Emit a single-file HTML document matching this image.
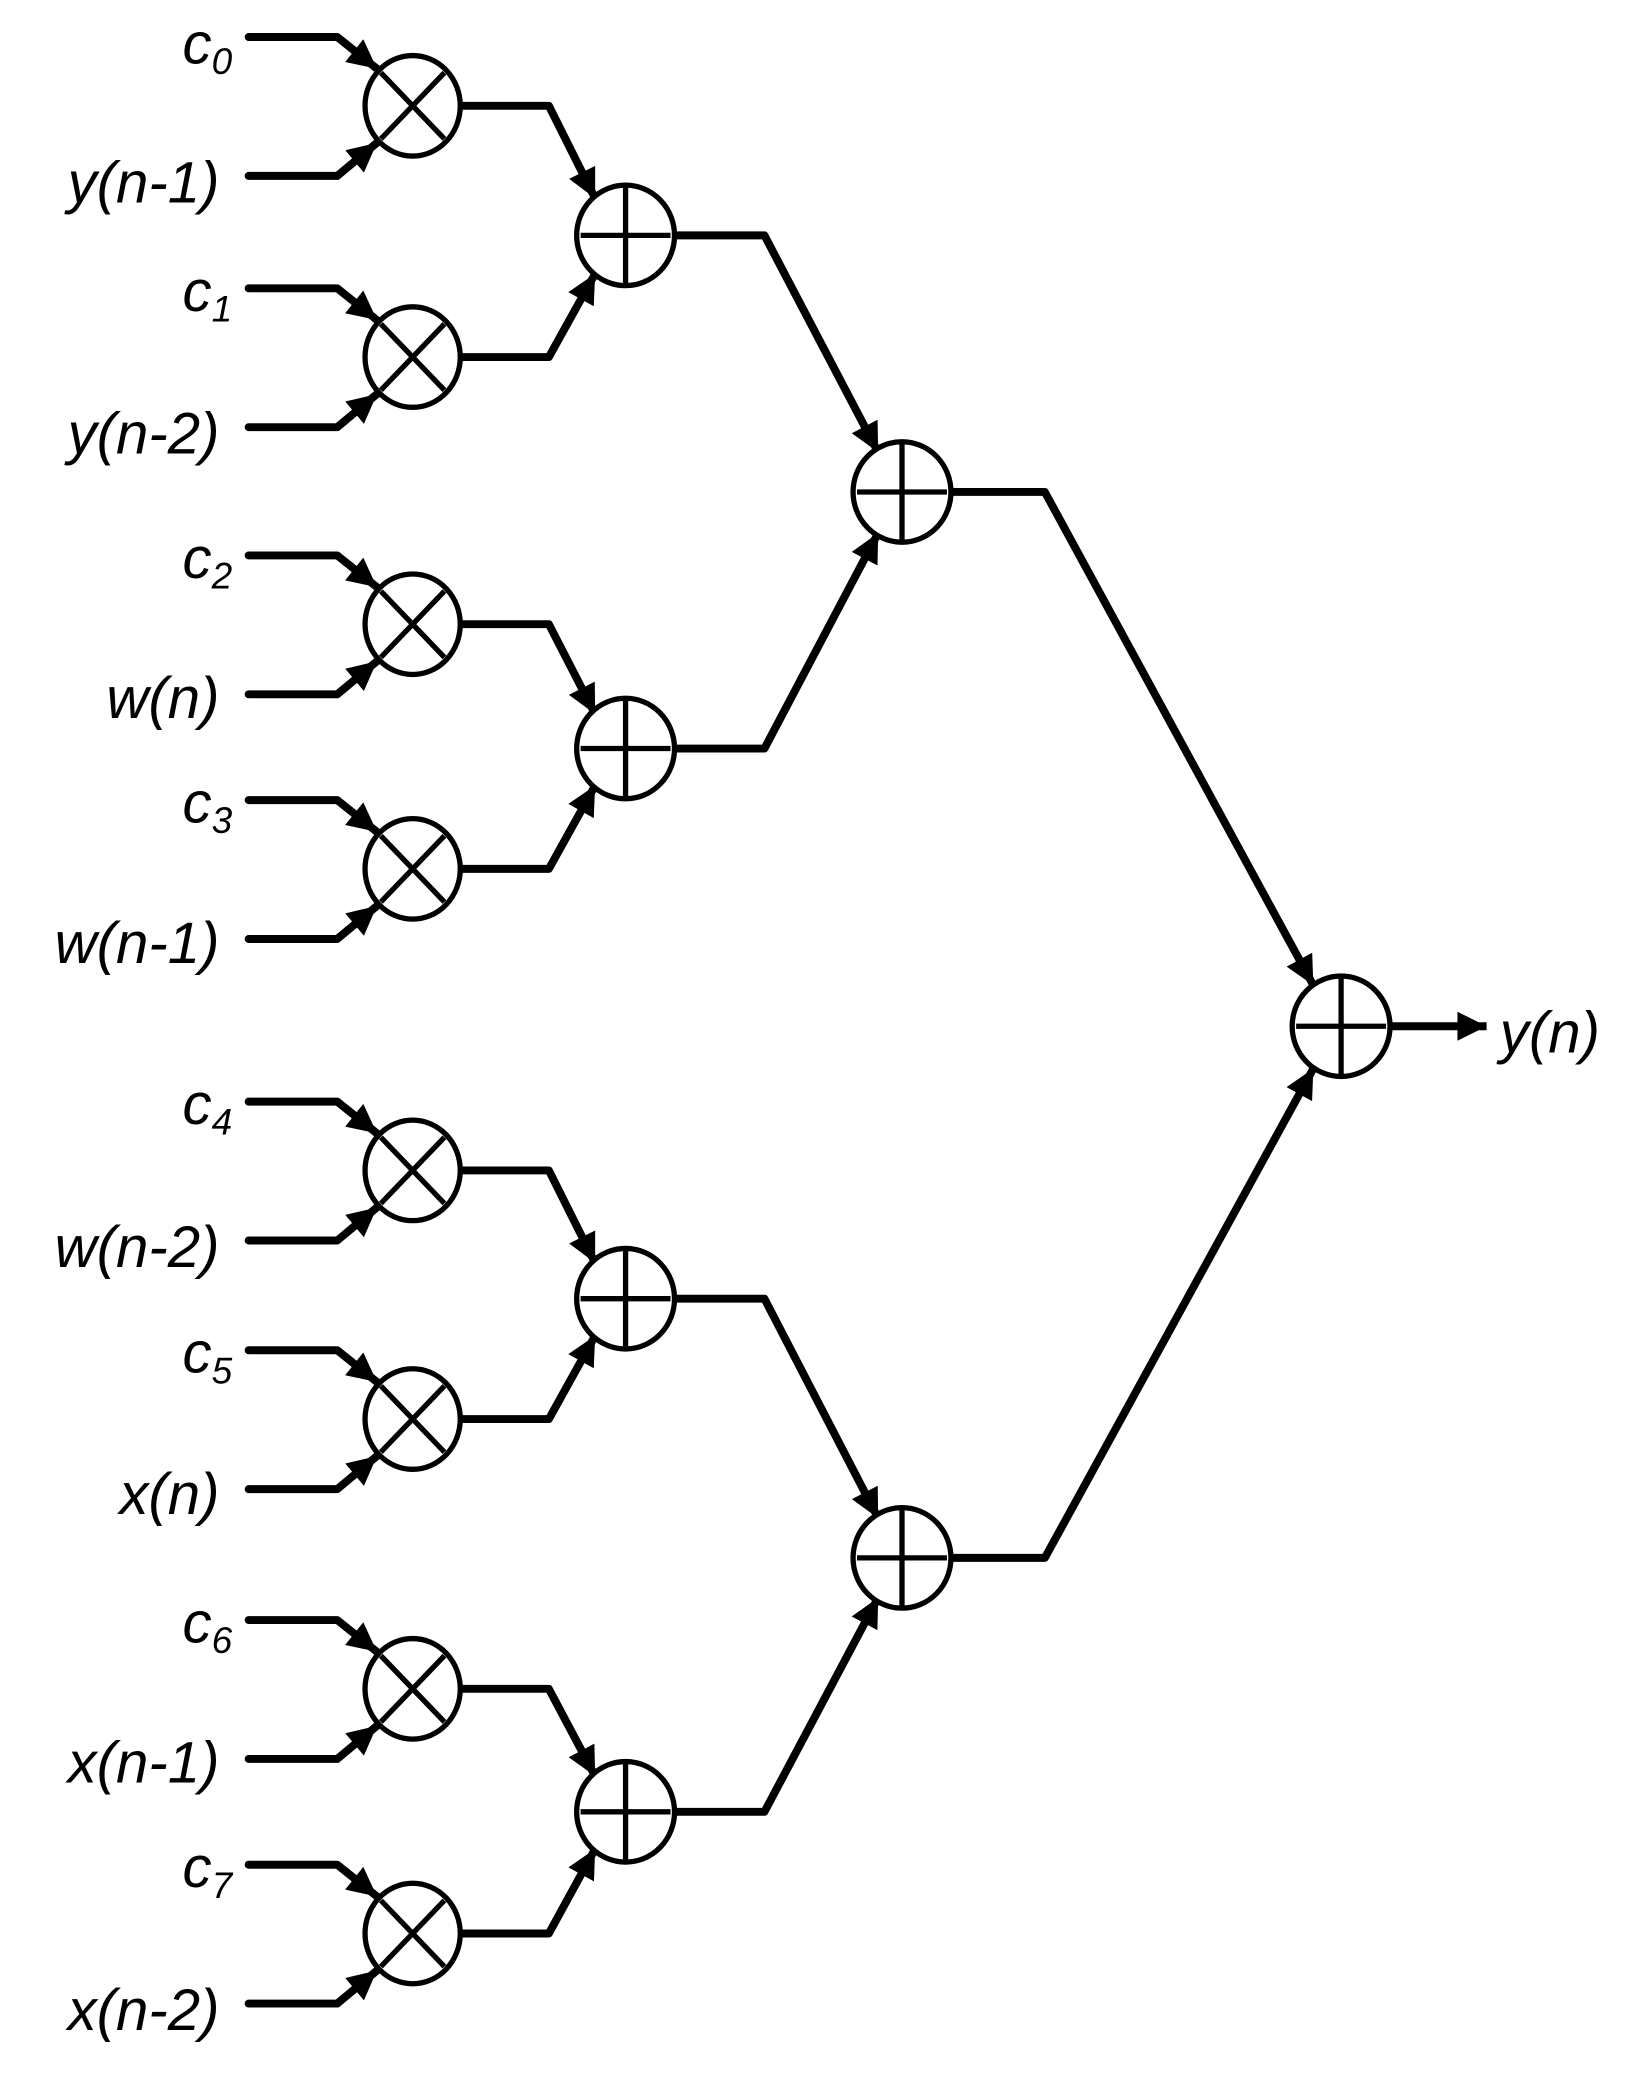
<!DOCTYPE html>
<html><head><style>
html,body{margin:0;padding:0;background:#fff;}
svg{display:block;}
text{font-family:"Liberation Sans",sans-serif;font-style:italic;fill:#000;}
</style></head><body>
<svg width="1640" height="2075" viewBox="0 0 1240 1569" preserveAspectRatio="none" xmlns="http://www.w3.org/2000/svg">
<defs>
<marker id="a" viewBox="0 0 10 10" refX="10" refY="5" markerUnits="userSpaceOnUse" markerWidth="32" markerHeight="22" orient="auto">
<path d="M0,0 L10,5 L0,10 z" fill="#000"/>
</marker>
<g id="mul">
<path d="M-124,-52 L-57,-52 L-27,-28" fill="none" stroke="#000" stroke-width="6" stroke-linecap="round" stroke-linejoin="round" marker-end="url(#a)"/>
<path d="M-124,53 L-57,53 L-27,28" fill="none" stroke="#000" stroke-width="6" stroke-linecap="round" stroke-linejoin="round" marker-end="url(#a)"/>
<ellipse cx="0" cy="0" rx="36" ry="38" fill="#fff" stroke="#000" stroke-width="4"/>
<path d="M-24,-25 L24,25 M-24,25 L24,-25" stroke="#000" stroke-width="4"/>
</g>
<g id="add">
<ellipse cx="0" cy="0" rx="37" ry="38" fill="#fff" stroke="#000" stroke-width="4"/>
<path d="M-34,0 L34,0 M0,-37 L0,37" stroke="#000" stroke-width="4"/>
</g>
</defs>
<g fill="none" stroke="#000" stroke-width="6" stroke-linejoin="round" marker-end="url(#a)">
<path d="M348,80 L415,80 L450,150"/>
<path d="M348,270 L415,270 L450,207"/>
<path d="M348,472 L415,472 L450,540"/>
<path d="M348,657 L415,657 L450,594"/>
<path d="M348,885 L415,885 L450,955"/>
<path d="M348,1073 L415,1073 L450,1010"/>
<path d="M348,1277 L415,1277 L450,1343"/>
<path d="M348,1462 L415,1462 L450,1398"/>
<path d="M510,178 L578,178 L664,342"/>
<path d="M510,566 L578,566 L664,403"/>
<path d="M510,982 L578,982 L664,1148"/>
<path d="M510,1370 L578,1370 L664,1208"/>
<path d="M719,372 L790,372 L993,745"/>
<path d="M719,1178 L790,1178 L993,808"/>
<path d="M1051,776 L1124,776"/>
</g>
<use href="#mul" x="312" y="80"/>
<use href="#mul" x="312" y="270"/>
<use href="#mul" x="312" y="472"/>
<use href="#mul" x="312" y="657"/>
<use href="#mul" x="312" y="885"/>
<use href="#mul" x="312" y="1073"/>
<use href="#mul" x="312" y="1277"/>
<use href="#mul" x="312" y="1462"/>
<use href="#add" x="473" y="178"/>
<use href="#add" x="473" y="566"/>
<use href="#add" x="473" y="982"/>
<use href="#add" x="473" y="1370"/>
<use href="#add" x="682" y="372"/>
<use href="#add" x="682" y="1178"/>
<use href="#add" x="1014" y="776"/>
<g font-size="44" text-anchor="end">
<text x="166" y="153">y(n-1)</text>
<text x="166" y="343">y(n-2)</text>
<text x="166" y="543">w(n)</text>
<text x="166" y="728">w(n-1)</text>
<text x="166" y="958">w(n-2)</text>
<text x="166" y="1145">x(n)</text>
<text x="166" y="1348">x(n-1)</text>
<text x="166" y="1535">x(n-2)</text>
</g>
<g font-size="44">
<text x="138" y="48">c<tspan font-size="28" dy="8">0</tspan></text>
<text x="138" y="235">c<tspan font-size="28" dy="8">1</tspan></text>
<text x="138" y="437">c<tspan font-size="28" dy="8">2</tspan></text>
<text x="138" y="622">c<tspan font-size="28" dy="8">3</tspan></text>
<text x="138" y="850">c<tspan font-size="28" dy="8">4</tspan></text>
<text x="138" y="1038">c<tspan font-size="28" dy="8">5</tspan></text>
<text x="138" y="1242">c<tspan font-size="28" dy="8">6</tspan></text>
<text x="138" y="1427">c<tspan font-size="28" dy="8">7</tspan></text>
<text x="1134" y="796">y(n)</text>
</g>
</svg>
</body></html>
